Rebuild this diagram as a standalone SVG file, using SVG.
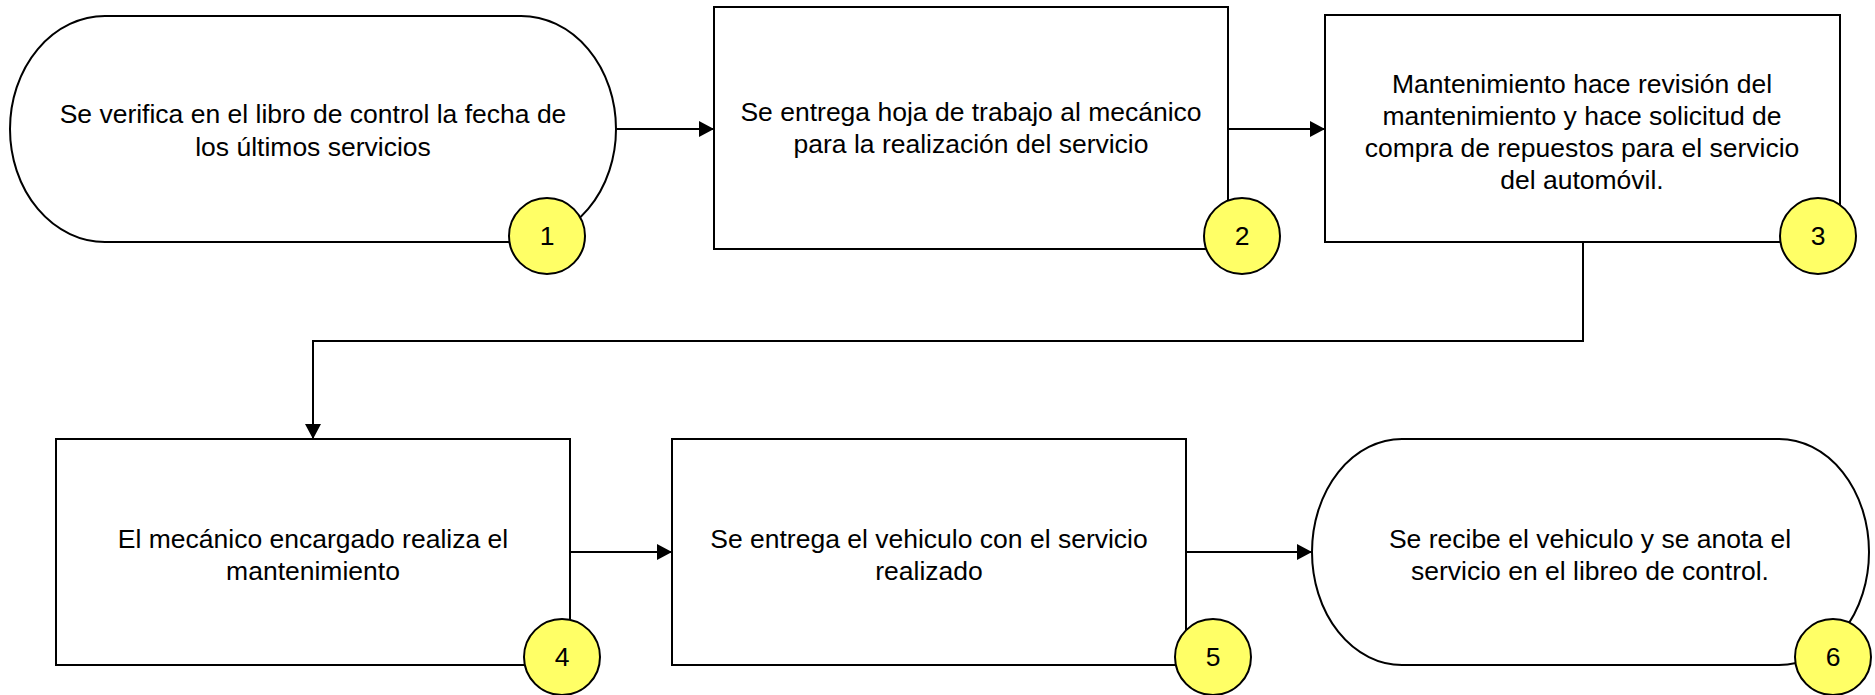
<svg xmlns="http://www.w3.org/2000/svg" width="1875" height="695" viewBox="0 0 1875 695">
<defs>
<marker id="arr" markerUnits="userSpaceOnUse" markerWidth="16" markerHeight="16" refX="15" refY="8" orient="auto">
<path d="M0,0 L15,8 L0,16 Z" fill="#000"/>
</marker>
<style>
.shape{fill:#fff;stroke:#000;stroke-width:2}
.badge{fill:#ffff66;stroke:#000;stroke-width:2}
.t{font-family:"Liberation Sans",Arial,sans-serif;font-size:26.5px;fill:#000;text-anchor:middle}
.conn{fill:none;stroke:#000;stroke-width:2}
</style>
</defs>
<rect width="1875" height="695" fill="#fff"/>
<g id="connectors">
<line class="conn" x1="616" y1="129" x2="714" y2="129" marker-end="url(#arr)"/>
<line class="conn" x1="1228" y1="129" x2="1325" y2="129" marker-end="url(#arr)"/>
<polyline class="conn" points="1583,242 1583,341 313,341 313,439" marker-end="url(#arr)"/>
<line class="conn" x1="570" y1="552" x2="672" y2="552" marker-end="url(#arr)"/>
<line class="conn" x1="1186" y1="552" x2="1312" y2="552" marker-end="url(#arr)"/>
</g>
<g id="node1">
<rect class="shape" x="10" y="16" width="606" height="226" rx="95" ry="113"/>
<text class="t" x="313" y="123">Se verifica en el libro de control la fecha de</text>
<text class="t" x="313" y="156">los últimos servicios</text>
<circle class="badge" cx="547" cy="236" r="38"/>
<text class="t" x="547" y="245">1</text>
</g>
<g id="node2">
<rect class="shape" x="714" y="7" width="514" height="242"/>
<text class="t" x="971" y="121">Se entrega hoja de trabajo al mecánico</text>
<text class="t" x="971" y="153">para la realización del servicio</text>
<circle class="badge" cx="1242" cy="236" r="38"/>
<text class="t" x="1242" y="245">2</text>
</g>
<g id="node3">
<rect class="shape" x="1325" y="15" width="515" height="227"/>
<text class="t" x="1582" y="92.5">Mantenimiento hace revisión del</text>
<text class="t" x="1582" y="124.5">mantenimiento y hace solicitud de</text>
<text class="t" x="1582" y="156.5">compra de repuestos para el servicio</text>
<text class="t" x="1582" y="188.5">del automóvil.</text>
<circle class="badge" cx="1818" cy="236" r="38"/>
<text class="t" x="1818" y="245">3</text>
</g>
<g id="node4">
<rect class="shape" x="56" y="439" width="514" height="226"/>
<text class="t" x="313" y="548">El mecánico encargado realiza el</text>
<text class="t" x="313" y="580">mantenimiento</text>
<circle class="badge" cx="562" cy="657" r="38"/>
<text class="t" x="562" y="666">4</text>
</g>
<g id="node5">
<rect class="shape" x="672" y="439" width="514" height="226"/>
<text class="t" x="929" y="548">Se entrega el vehiculo con el servicio</text>
<text class="t" x="929" y="580">realizado</text>
<circle class="badge" cx="1213" cy="657" r="38"/>
<text class="t" x="1213" y="666">5</text>
</g>
<g id="node6">
<rect class="shape" x="1312" y="439" width="557" height="226" rx="90" ry="113"/>
<text class="t" x="1590" y="548">Se recibe el vehiculo y se anota el</text>
<text class="t" x="1590" y="580">servicio en el libreo de control.</text>
<circle class="badge" cx="1833" cy="657" r="38"/>
<text class="t" x="1833" y="666">6</text>
</g>
</svg>
